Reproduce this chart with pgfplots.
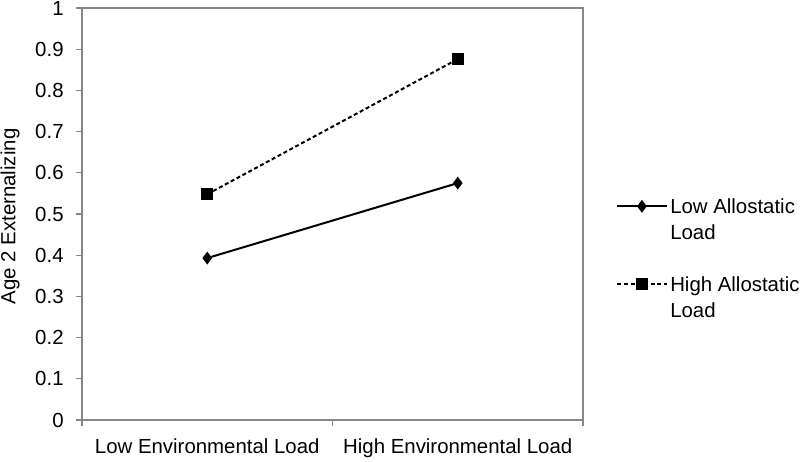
\documentclass[border=0pt]{standalone}
\usepackage{pgfplots}
\pgfplotsset{compat=1.18}
\usepackage{fontspec}
\setmainfont{Liberation Sans}
\definecolor{axisgray}{RGB}{134,134,134}
\newcommand{\twoline}[2]{\begin{tabular}[b]{@{}l@{}}#1\\#2\end{tabular}}
\begin{document}
\fontsize{15.3}{19.5}\selectfont
\begin{tikzpicture}
\begin{axis}[
  name=ax,
  scale only axis,
  width=375.75pt, height=309pt,
  xmin=0, xmax=2, ymin=0, ymax=1,
  axis line style={axisgray, line width=1pt},
  every tick/.style={axisgray, line width=1pt},
  tick align=outside, major tick length=4.5pt,
  xtick pos=bottom, ytick pos=left,
  xtick={0,1,2}, xticklabels={},
  extra x ticks={0.5,1.5},
  extra x tick labels={Low Environmental Load, High Environmental Load},
  extra x tick style={major tick length=0pt, tick label style={yshift=-9pt}},
  ytick={0,0.1,...,1.0},
  yticklabel style={/pgf/number format/fixed, xshift=-4pt},
  /pgf/number format/assume math mode=true,
  tick label style={font=\fontsize{15.3}{18}\selectfont, black},
  ylabel={Age 2 Externalizing},
  ylabel style={at={([xshift=-54pt]rel axis cs:0,0.494)}, anchor=center},
  clip=false,
  legend cell align=left,
  legend style={draw=none, fill=none, at={([xshift=21.75pt]rel axis cs:1,0.393)},
    anchor=west, row sep=19pt},
  legend image code/.code={\draw[mark repeat=2, mark phase=2, #1]
    plot coordinates {(0pt,9.6pt)(18.5pt,9.6pt)(37pt,9.6pt)};},
]
\addplot[black, line width=1.5pt, mark=diamond*, mark size=3.6pt,
  mark options={solid}] coordinates {(0.5,0.393) (1.5,0.575)};
\addlegendentry{\twoline{Low Allostatic}{Load}}
\addplot[black, line width=1.5pt, dash pattern=on 3pt off 2pt, mark=square*,
  mark size=3.6pt, mark options={solid}] coordinates {(0.5,0.548) (1.5,0.876)};
\addlegendentry{\twoline{High Allostatic}{Load}}
\end{axis}
\pgfresetboundingbox
\path[use as bounding box] ([shift={(-61.5pt,-30.75pt)}]ax.south west)
  rectangle ([shift={(162.75pt,6pt)}]ax.north east);
\end{tikzpicture}
\end{document}
